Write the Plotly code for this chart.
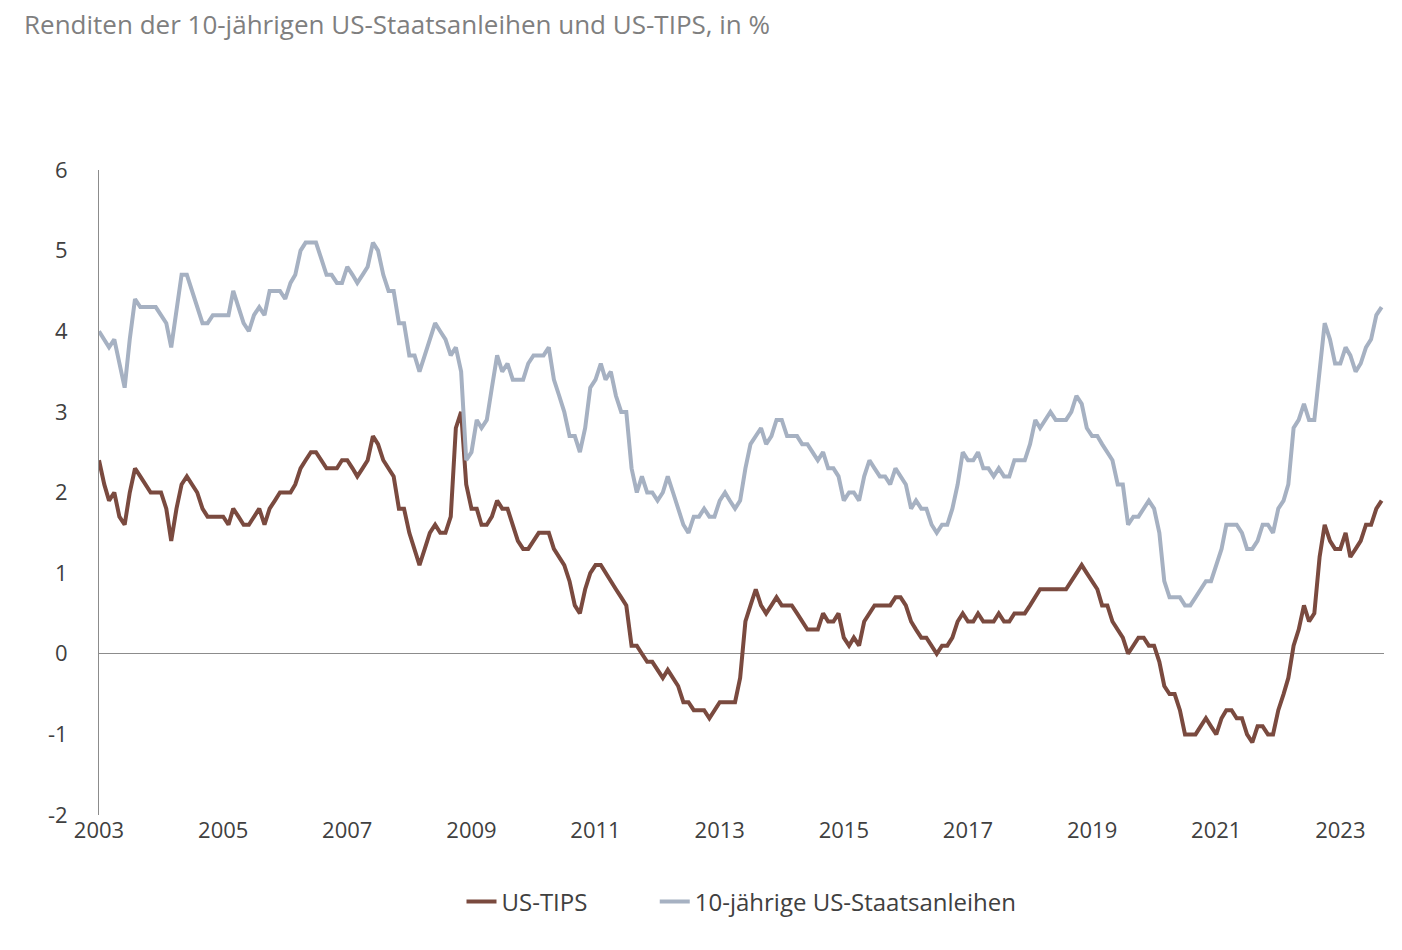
import pandas as pd
import plotly.graph_objects as go

# monthly values, Jan 2003 .. Sep 2023
nominal_10y = [
    4.0, 3.9, 3.8, 3.9, 3.6, 3.3, 3.9, 4.4, 4.3, 4.3, 4.3, 4.3,
    4.2, 4.1, 3.8, 4.3, 4.7, 4.7, 4.5, 4.3, 4.1, 4.1, 4.2, 4.2,
    4.2, 4.2, 4.5, 4.3, 4.1, 4.0, 4.2, 4.3, 4.2, 4.5, 4.5, 4.5,
    4.4, 4.6, 4.7, 5.0, 5.1, 5.1, 5.1, 4.9, 4.7, 4.7, 4.6, 4.6,
    4.8, 4.7, 4.6, 4.7, 4.8, 5.1, 5.0, 4.7, 4.5, 4.5, 4.1, 4.1,
    3.7, 3.7, 3.5, 3.7, 3.9, 4.1, 4.0, 3.9, 3.7, 3.8, 3.5, 2.4,
    2.5, 2.9, 2.8, 2.9, 3.3, 3.7, 3.5, 3.6, 3.4, 3.4, 3.4, 3.6,
    3.7, 3.7, 3.7, 3.8, 3.4, 3.2, 3.0, 2.7, 2.7, 2.5, 2.8, 3.3,
    3.4, 3.6, 3.4, 3.5, 3.2, 3.0, 3.0, 2.3, 2.0, 2.2, 2.0, 2.0,
    1.9, 2.0, 2.2, 2.0, 1.8, 1.6, 1.5, 1.7, 1.7, 1.8, 1.7, 1.7,
    1.9, 2.0, 1.9, 1.8, 1.9, 2.3, 2.6, 2.7, 2.8, 2.6, 2.7, 2.9,
    2.9, 2.7, 2.7, 2.7, 2.6, 2.6, 2.5, 2.4, 2.5, 2.3, 2.3, 2.2,
    1.9, 2.0, 2.0, 1.9, 2.2, 2.4, 2.3, 2.2, 2.2, 2.1, 2.3, 2.2,
    2.1, 1.8, 1.9, 1.8, 1.8, 1.6, 1.5, 1.6, 1.6, 1.8, 2.1, 2.5,
    2.4, 2.4, 2.5, 2.3, 2.3, 2.2, 2.3, 2.2, 2.2, 2.4, 2.4, 2.4,
    2.6, 2.9, 2.8, 2.9, 3.0, 2.9, 2.9, 2.9, 3.0, 3.2, 3.1, 2.8,
    2.7, 2.7, 2.6, 2.5, 2.4, 2.1, 2.1, 1.6, 1.7, 1.7, 1.8, 1.9,
    1.8, 1.5, 0.9, 0.7, 0.7, 0.7, 0.6, 0.6, 0.7, 0.8, 0.9, 0.9,
    1.1, 1.3, 1.6, 1.6, 1.6, 1.5, 1.3, 1.3, 1.4, 1.6, 1.6, 1.5,
    1.8, 1.9, 2.1, 2.8, 2.9, 3.1, 2.9, 2.9, 3.5, 4.1, 3.9, 3.6,
    3.6, 3.8, 3.7, 3.5, 3.6, 3.8, 3.9, 4.2, 4.3,
]
tips = [
    2.4, 2.1, 1.9, 2.0, 1.7, 1.6, 2.0, 2.3, 2.2, 2.1, 2.0, 2.0,
    2.0, 1.8, 1.4, 1.8, 2.1, 2.2, 2.1, 2.0, 1.8, 1.7, 1.7, 1.7,
    1.7, 1.6, 1.8, 1.7, 1.6, 1.6, 1.7, 1.8, 1.6, 1.8, 1.9, 2.0,
    2.0, 2.0, 2.1, 2.3, 2.4, 2.5, 2.5, 2.4, 2.3, 2.3, 2.3, 2.4,
    2.4, 2.3, 2.2, 2.3, 2.4, 2.7, 2.6, 2.4, 2.3, 2.2, 1.8, 1.8,
    1.5, 1.3, 1.1, 1.3, 1.5, 1.6, 1.5, 1.5, 1.7, 2.8, 3.0, 2.1,
    1.8, 1.8, 1.6, 1.6, 1.7, 1.9, 1.8, 1.8, 1.6, 1.4, 1.3, 1.3,
    1.4, 1.5, 1.5, 1.5, 1.3, 1.2, 1.1, 0.9, 0.6, 0.5, 0.8, 1.0,
    1.1, 1.1, 1.0, 0.9, 0.8, 0.7, 0.6, 0.1, 0.1, 0.0, -0.1, -0.1,
    -0.2, -0.3, -0.2, -0.3, -0.4, -0.6, -0.6, -0.7, -0.7, -0.7, -0.8, -0.7,
    -0.6, -0.6, -0.6, -0.6, -0.3, 0.4, 0.6, 0.8, 0.6, 0.5, 0.6, 0.7,
    0.6, 0.6, 0.6, 0.5, 0.4, 0.3, 0.3, 0.3, 0.5, 0.4, 0.4, 0.5,
    0.2, 0.1, 0.2, 0.1, 0.4, 0.5, 0.6, 0.6, 0.6, 0.6, 0.7, 0.7,
    0.6, 0.4, 0.3, 0.2, 0.2, 0.1, 0.0, 0.1, 0.1, 0.2, 0.4, 0.5,
    0.4, 0.4, 0.5, 0.4, 0.4, 0.4, 0.5, 0.4, 0.4, 0.5, 0.5, 0.5,
    0.6, 0.7, 0.8, 0.8, 0.8, 0.8, 0.8, 0.8, 0.9, 1.0, 1.1, 1.0,
    0.9, 0.8, 0.6, 0.6, 0.4, 0.3, 0.2, 0.0, 0.1, 0.2, 0.2, 0.1,
    0.1, -0.1, -0.4, -0.5, -0.5, -0.7, -1.0, -1.0, -1.0, -0.9, -0.8, -0.9,
    -1.0, -0.8, -0.7, -0.7, -0.8, -0.8, -1.0, -1.1, -0.9, -0.9, -1.0, -1.0,
    -0.7, -0.5, -0.3, 0.1, 0.3, 0.6, 0.4, 0.5, 1.2, 1.6, 1.4, 1.3,
    1.3, 1.5, 1.2, 1.3, 1.4, 1.6, 1.6, 1.8, 1.9,
]
dates = pd.date_range("2003-01-01", periods=len(tips), freq="MS")
tick_years = [str(y) for y in range(2003, 2024, 2)]
y_ticks = list(range(-2, 7))

fig = go.Figure()
fig.add_trace(go.Scatter(x=dates, y=tips, name="US-TIPS" + "\u00a0" * 10, mode="lines",
                         line=dict(color="#7a4a3f", width=4)))
fig.add_trace(go.Scatter(x=dates, y=nominal_10y, name="10-jährige US-Staatsanleihen",
                         mode="lines", line=dict(color="#a6b1c2", width=4)))

fig.add_annotation(text="Abb. 1 – Erfreuliche Renditen", xref="paper", yref="paper",
                   x=-0.06, y=1.245, xanchor="left", yanchor="bottom", showarrow=False,
                   font=dict(family="Liberation Serif, serif", size=34, color="#7f7f7f"))
fig.add_annotation(text="Renditen der 10-jährigen US-Staatsanleihen und US-TIPS, in %",
                   xref="paper", yref="paper", x=-0.06, y=1.195, xanchor="left",
                   yanchor="bottom", showarrow=False,
                   font=dict(family="Open Sans, sans-serif", size=26, color="#7f7f7f"))

fig.update_layout(
    width=1402, height=950,
    paper_bgcolor="white", plot_bgcolor="white",
    font=dict(family="Open Sans, sans-serif", size=22, color="#404040"),
    margin=dict(l=91, r=26, t=162, b=143),
    showlegend=True,
    legend=dict(orientation="h", x=0.5, xanchor="center", y=-0.1, yanchor="top",
                font=dict(size=24, color="#404040")),
    xaxis=dict(range=["2003-01-01", "2023-09-15"],
               tickvals=[f"{y}-01-01" for y in tick_years], ticktext=tick_years,
               showgrid=False, showline=False, zeroline=False, ticks=""),
    yaxis=dict(range=[-2, 6], tickvals=y_ticks, ticktext=[str(v).replace("\u2212", "-") for v in y_ticks],
               showgrid=False, zeroline=True,
               zerolinecolor="#8c8c8c", zerolinewidth=1,
               showline=True, linecolor="#8c8c8c", ticks="", ticklabelstandoff=26),
)
fig.write_html("out.html")
